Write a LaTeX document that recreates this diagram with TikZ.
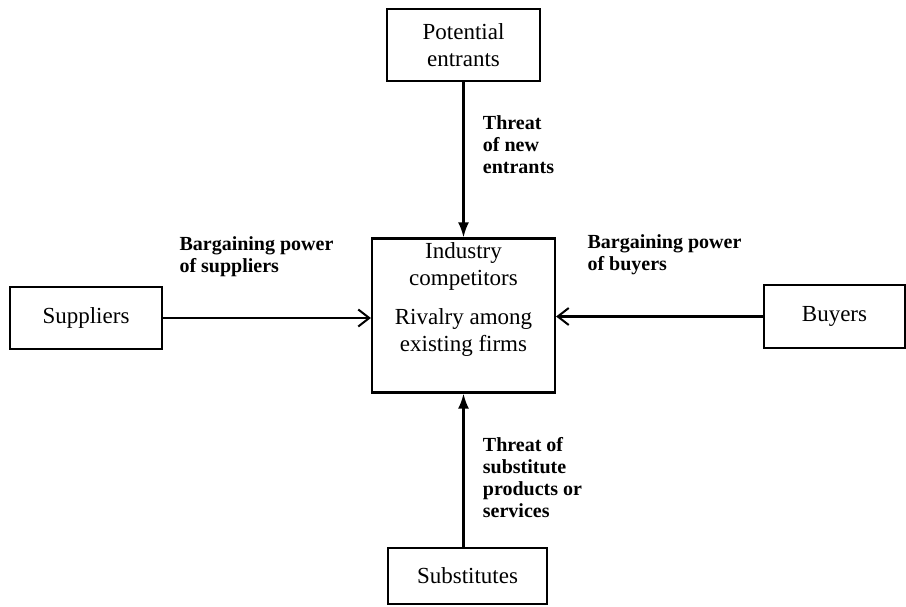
\documentclass[tikz,border=0pt]{standalone}
\usepackage{fontspec}
\setmainfont{Liberation Serif}
\usetikzlibrary{arrows.meta,calc}

\begin{document}
\begin{tikzpicture}[x=1pt,y=-1pt,
  force/.style={draw,line width=2.2pt,rectangle,align=center,
    font=\fontsize{23}{27}\selectfont},
  push/.style={line width=2.2pt,-{Latex[length=15pt,width=11pt]}},
  bargain/.style={line width=2.2pt,-{Straight Barb[length=11pt,width=17pt,line width=2pt]}},
  threat/.style={align=left,font=\bfseries\fontsize{20}{22}\selectfont}]
  \useasboundingbox (0,0) rectangle (906,607);
  \clip (0,0) rectangle (906,607);
  % the five forces
  \node[force,minimum width=153pt,minimum height=72pt] (entrants) at (463.5,45) {Potential\\entrants};
  \node[force,minimum width=183pt,minimum height=154pt] (rivalry) at (463.5,315.5) {};
  \node[align=center,font=\fontsize{23}{27}\selectfont] (rivalrytext) at ($(rivalry)+(0,-16)$)
    {Industry\\competitors\\[12pt]Rivalry among\\existing firms};
  \node[force,minimum width=152pt,minimum height=62pt] (suppliers) at (86,318) {Suppliers};
  \node[force,minimum width=141pt,minimum height=63pt] (buyers) at (834.5,316.5) {Buyers};
  \node[force,minimum width=159pt,minimum height=56pt] (substitutes) at (467.5,576) {Substitutes};
  % arrows into the industry
  \path[push]
  (entrants) edge node[threat,pos=0.4,anchor=west,xshift=15pt] {Threat\\of new\\entrants} (rivalry)
  (substitutes.north -| rivalry.south) edge node[threat,pos=0.45,anchor=west,xshift=15pt]
    {Threat of\\substitute\\products or\\services} (rivalry.south)
  ;
  \path[bargain]
  (suppliers.east) edge node[threat,pos=0,anchor=south west,xshift=12pt,yshift=37pt]
    {Bargaining power\\of suppliers} (suppliers.east -| rivalry.west)
  (buyers.west) edge node[threat,pos=1,anchor=south west,xshift=27pt,yshift=37pt]
    {Bargaining power\\of buyers} (buyers.west -| rivalry.east)
  ;
\end{tikzpicture}
\end{document}
